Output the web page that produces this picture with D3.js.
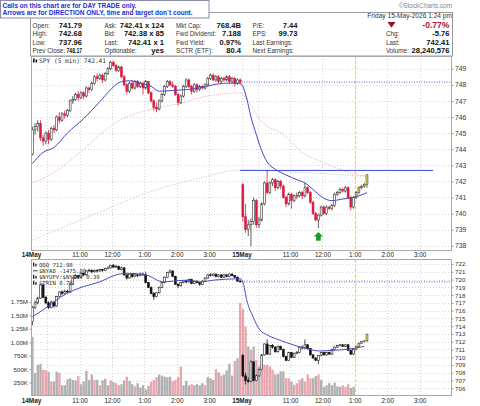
<!DOCTYPE html>
<html>
<head>
<meta charset="utf-8">
<script src="https://cdn.jsdelivr.net/npm/d3@7"></script>
<style>
body { margin: 0; background: #fff; }
svg { display: block; font-family: "Liberation Sans", Arial, sans-serif; }
</style>
</head>
<body>
<svg id="vis" width="480" height="406"></svg>
<script>
// SPY 5 min bars [open, high, low, close], 14May then 15May
var spyBars = [
  [743.7,745.4,743.6,745.2],[745.2,745.6,744.9,745.4],[745.4,745.8,745.1,745.6],[745.6,745.8,744.5,744.7],
  [744.7,744.9,744.2,744.5],[744.5,745.1,744.3,745.0],[745.0,745.2,744.3,744.6],[744.6,745.4,744.5,745.3],
  [745.3,745.5,745.0,745.2],[745.2,746.1,745.1,746.0],[746.0,746.3,745.6,745.8],[745.8,746.3,745.7,746.2],
  [746.2,746.4,745.9,746.1],[746.1,746.5,746.0,746.4],[746.4,747.1,746.3,747.0],[747.0,747.3,746.8,747.1],
  [747.1,747.5,747.0,747.4],[747.4,747.6,747.0,747.2],[747.2,747.6,747.1,747.5],[747.5,747.6,747.1,747.3],
  [747.3,747.9,747.2,747.8],[747.8,747.9,747.5,747.7],[747.7,748.2,747.6,748.1],[748.1,748.6,748.0,748.5],
  [748.5,748.7,748.2,748.4],[748.4,748.7,748.3,748.6],[748.6,748.7,748.1,748.3],[748.3,748.8,748.2,748.7],
  [748.7,749.1,748.6,749.0],[749.0,749.5,748.9,749.4],[749.4,749.5,749.1,749.2],[749.2,749.3,748.8,748.9],
  [748.9,749.2,748.8,749.1],[749.1,749.2,748.4,748.5],[748.5,748.6,747.9,748.0],[748.0,748.1,747.4,747.6],
  [747.6,748.2,747.5,748.1],[748.1,748.3,747.7,747.8],[747.8,748.3,747.7,748.2],[748.2,748.3,747.8,747.9],
  [747.9,748.2,747.8,748.1],[748.1,748.2,747.4,747.8],[747.8,748.3,747.7,748.2],[748.2,748.2,747.4,747.5],
  [747.5,747.6,746.9,747.0],[747.0,747.1,746.4,746.6],[746.6,746.9,746.3,746.5],[746.5,747.1,746.4,747.0],
  [747.0,747.5,746.9,747.4],[747.4,748.0,747.3,747.9],[747.9,748.3,747.8,748.2],[748.2,748.3,747.9,748.0],
  [748.0,748.2,747.8,747.9],[747.9,748.0,747.3,747.4],[747.4,747.5,746.7,746.9],[746.9,747.4,746.8,747.3],
  [747.3,748.0,747.2,747.9],[747.9,748.4,747.8,748.3],[748.3,748.4,747.8,747.9],[747.9,748.0,747.4,747.6],
  [747.6,748.1,747.5,748.0],[748.0,748.1,747.5,747.7],[747.7,748.0,747.6,747.9],[747.9,748.0,747.7,747.8],
  [747.8,748.1,747.7,748.0],[748.0,748.5,747.9,748.4],[748.4,748.7,748.3,748.6],[748.6,748.7,748.2,748.3],
  [748.3,748.6,748.2,748.5],[748.5,748.6,748.1,748.2],[748.2,748.5,748.1,748.4],[748.4,748.5,748.2,748.3],
  [748.3,748.6,748.2,748.5],[748.5,748.6,748.1,748.2],[748.2,748.5,748.1,748.4],[748.4,748.5,747.9,748.1],
  [748.1,748.4,748.0,748.3],[748.3,748.4,748.0,748.17],
  [741.79,741.9,739.5,739.8],[739.8,740.6,738.8,739.0],[739.0,739.6,738.6,739.3],[739.3,739.7,737.96,739.5],
  [739.5,741.0,739.3,740.8],[740.8,740.9,739.1,739.3],[739.3,739.8,739.1,739.6],[739.6,740.7,739.5,740.6],
  [740.6,742.0,740.5,741.9],[741.9,742.68,741.2,741.3],[741.3,742.0,741.2,741.9],[741.9,742.2,741.7,742.1],
  [742.1,742.2,741.4,741.6],[741.6,742.1,741.5,742.0],[742.0,742.1,741.5,741.7],[741.7,741.8,740.9,741.0],
  [741.0,741.1,740.4,740.6],[740.6,741.3,740.5,741.2],[741.2,741.3,740.3,740.8],[740.8,741.2,740.7,741.1],
  [741.1,741.3,740.9,741.1],[741.1,741.4,741.0,741.3],[741.3,741.4,740.9,741.1],[741.1,741.9,741.0,741.6],
  [741.6,741.7,741.2,741.3],[741.3,741.4,740.6,740.7],[740.7,740.8,739.9,740.0],[740.0,740.1,739.5,739.6],
  [739.6,740.0,739.1,739.9],[739.9,740.5,739.8,740.4],[740.4,740.5,739.9,740.0],[740.0,740.5,739.9,740.4],
  [740.4,740.5,740.2,740.3],[740.3,740.6,740.2,740.5],[740.5,741.3,740.4,741.2],[741.2,741.4,741.1,741.3],
  [741.3,741.6,741.2,741.5],[741.5,741.6,741.3,741.4],[741.4,741.7,741.3,741.6],[741.6,741.7,740.9,741.0],
  [741.0,741.1,740.2,740.4],[740.4,741.1,740.3,741.0],[741.0,741.4,740.9,741.3],[741.3,741.7,741.2,741.6],
  [741.6,741.8,741.5,741.7],[741.7,741.9,741.6,741.8],[741.8,742.41,741.6,742.41]
];

// QQQ 5 min bars [open, high, low, close]
var qqqBars = [
  [714.6,716.6,714.1,716.4],[716.4,717.3,716.2,717.0],[717.0,717.8,716.8,717.6],[717.6,719.4,717.5,719.3],
  [719.3,719.5,717.6,717.7],[717.7,717.9,716.8,717.0],[717.0,717.2,716.2,716.4],[716.4,717.3,716.3,717.1],
  [717.1,717.2,716.4,716.6],[716.6,717.9,716.5,717.8],[717.8,718.5,717.7,718.4],[718.4,718.6,718.0,718.2],
  [718.2,718.7,718.1,718.5],[718.5,718.7,718.2,718.4],[718.4,719.5,718.3,719.4],[719.4,720.3,719.3,720.2],
  [720.2,720.7,720.1,720.5],[720.5,720.6,720.1,720.3],[720.3,720.9,720.2,720.8],[720.8,720.9,720.4,720.6],
  [720.6,721.2,720.5,721.1],[721.1,721.4,721.0,721.2],[721.2,721.3,720.8,721.0],[721.0,721.3,720.9,721.2],
  [721.2,721.3,720.9,721.1],[721.1,721.4,721.0,721.3],[721.3,721.4,721.0,721.2],[721.2,721.5,721.1,721.4],
  [721.4,721.7,721.3,721.5],[721.5,721.9,721.4,721.8],[721.8,722.0,721.5,721.6],[721.6,721.9,721.5,721.7],
  [721.7,721.8,721.2,721.3],[721.3,721.7,721.2,721.5],[721.5,721.6,720.5,720.6],[720.6,720.7,720.0,720.2],
  [720.2,720.8,720.1,720.7],[720.7,720.8,720.2,720.4],[720.4,720.8,720.3,720.6],[720.6,720.7,720.3,720.5],
  [720.5,720.9,720.4,720.7],[720.7,720.9,720.5,720.6],[720.6,721.0,719.5,719.6],[719.6,719.7,718.9,719.0],
  [719.0,719.1,718.1,718.2],[718.2,718.4,717.4,717.8],[717.8,718.4,717.7,718.3],[718.3,719.1,718.2,719.0],
  [719.0,719.7,718.9,719.6],[719.6,720.4,719.5,720.3],[720.3,721.0,720.2,720.9],[720.9,721.3,720.8,721.1],
  [721.1,721.2,720.3,720.4],[720.4,720.5,719.3,719.4],[719.4,719.5,718.9,719.2],[719.2,719.7,719.1,719.6],
  [719.6,719.9,719.5,719.8],[719.8,720.0,719.5,719.7],[719.7,720.1,719.6,720.0],[720.0,720.1,719.4,719.5],
  [719.5,719.9,719.4,719.8],[719.8,719.9,719.5,719.6],[719.6,719.7,719.2,719.4],[719.4,719.9,719.3,719.8],
  [719.8,720.3,719.7,720.2],[720.2,720.7,720.1,720.6],[720.6,720.8,720.4,720.5],[720.5,720.8,720.4,720.7],
  [720.7,720.8,720.3,720.4],[720.4,720.7,720.3,720.6],[720.6,720.7,720.2,720.3],[720.3,720.7,720.2,720.6],
  [720.6,720.7,720.3,720.4],[720.4,720.8,720.3,720.7],[720.7,720.8,720.4,720.5],[720.5,720.6,720.2,720.3],
  [720.3,720.4,719.7,719.8],[719.8,720.0,719.6,719.7],
  [710.2,710.4,707.4,707.6],[707.6,708.0,706.5,707.0],[707.0,707.4,706.7,706.9],[706.9,709.6,706.8,709.4],
  [709.4,709.5,706.9,707.0],[707.0,707.8,706.9,707.6],[707.6,708.5,707.5,708.4],[708.4,710.4,708.3,710.3],
  [710.3,711.8,710.2,711.7],[711.7,712.3,710.3,710.4],[710.4,711.6,710.3,711.5],[711.5,711.7,711.1,711.3],
  [711.3,711.4,710.6,710.7],[710.7,711.5,710.6,711.4],[711.4,711.5,710.9,711.0],[711.0,711.1,710.0,710.1],
  [710.1,710.2,709.5,709.6],[709.6,710.7,709.5,710.6],[710.6,710.7,709.9,710.0],[710.0,710.6,709.9,710.5],
  [710.5,710.8,710.4,710.6],[710.6,711.4,710.5,711.3],[711.3,711.5,711.0,711.2],[711.2,712.3,711.1,711.6],
  [711.6,711.7,711.0,711.1],[711.1,711.2,710.2,710.3],[710.3,710.4,709.8,709.9],[709.9,710.0,709.5,709.6],
  [709.6,710.3,709.1,710.2],[710.2,710.7,710.1,710.6],[710.6,710.7,710.2,710.3],[710.3,710.7,710.2,710.6],
  [710.6,710.7,710.3,710.4],[710.4,711.1,710.3,711.0],[711.0,711.4,710.9,711.3],[711.3,711.6,711.2,711.5],
  [711.5,711.7,711.4,711.6],[711.6,711.7,711.3,711.4],[711.4,711.7,711.3,711.6],[711.6,711.7,710.8,710.9],
  [710.9,711.0,710.3,710.4],[710.4,711.1,710.3,711.0],[711.0,711.5,710.9,711.4],[711.4,711.9,711.3,711.8],
  [711.8,712.1,711.7,712.0],[712.0,712.2,711.9,712.1],[712.1,712.98,712.0,712.98]
];

// volume in millions, and 1 where the bar is drawn pink
var volume = [
  1.1,0.43,0.58,0.6,0.49,0.48,0.45,0.27,0.27,0.45,0.43,0.2,0.2,0.31,0.33,0.3,0.29,0.37,0.22,0.27,
  0.47,0.3,0.4,0.3,0.3,0.2,0.29,0.32,0.2,0.29,0.26,0.24,0.2,0.22,0.29,0.36,0.28,0.22,0.18,0.24,
  0.16,0.2,0.12,0.19,0.26,0.3,0.35,0.4,0.38,0.36,0.35,0.36,0.28,0.3,0.35,0.55,0.2,0.28,0.2,0.22,
  0.2,0.22,0.2,0.24,0.2,0.35,0.33,0.3,0.5,0.44,0.38,0.4,0.48,0.6,0.38,0.65,0.7,1.73,
  1.62,1.29,0.92,0.86,0.92,0.67,0.55,0.61,0.58,0.58,0.55,0.49,0.4,0.41,0.46,0.46,0.33,0.33,0.27,0.21,
  0.24,0.3,0.33,0.27,0.4,0.33,0.33,0.37,0.4,0.3,0.17,0.2,0.24,0.2,0.25,0.18,0.17,0.2,0.17,0.22,
  0.15,0.17
];
var volDown = [
  0,0,0,0,1,1,0,1,0,0,1,0,0,0,0,0,0,1,0,0,
  0,0,0,1,0,1,0,0,0,1,0,1,1,0,0,1,0,0,1,0,
  0,0,0,0,1,1,1,0,0,0,0,0,1,1,1,1,0,0,0,1,
  0,0,0,0,1,0,0,0,1,0,1,0,0,0,0,1,0,1,
  1,1,0,1,0,1,0,1,1,1,1,1,0,0,0,0,1,1,0,1,
  1,1,0,1,1,1,0,0,1,0,0,0,0,0,0,0,0,1,1,1,
  0,0
];

// moving averages [bar index, value]
var spyMaShort = [[0,743.1],[4,743.8],[8,744.1],[13,745.0],[19,745.9],[25,746.95],[29,747.7],[33,748.2],
  [36,748.25],[40,748.1],[44,747.9],[47,747.6],[52,747.65],[57,747.7],[62,747.8],[67,748.0],[72,748.1],
  [77,748.1],[78,747.9],[79.5,747.1],[81,746.0],[83,744.9],[85,743.9],[87,743.2],[90,742.75],[94,742.4],
  [98,742.1],[101,741.9],[104,741.5],[107.5,741.0],[111,740.8],[115,740.9],[119,741.0],[121,741.1],[124,741.3]];
var spyMaMid = [[0,741.9],[6.5,742.4],[17.6,743.8],[25,744.9],[32.5,745.8],[40,746.3],[47,746.6],[55,746.85],
  [62,747.2],[69.5,747.4],[77,747.5],[78,747.4],[85,745.7],[93,744.9],[100,743.8],[107.5,743.2],[115,742.7],
  [120.5,742.4],[124,742.35]];
var spyMaLong = [[0,738.35],[25,740.1],[43.6,741.35],[62,742.2],[77,742.7],[100,742.55],[124,742.3]];
var qqqMa = [[0,715.2],[4,716.1],[12.7,718.2],[19,719.1],[25,719.7],[31,720.6],[35,720.8],[42,720.6],
  [48.5,719.7],[56,719.9],[62,719.7],[68,719.95],[77,720.1],[78,719.7],[79.4,717.4],[81.8,715.2],
  [84.3,713.5],[86.8,712.9],[91.7,712.2],[96.6,711.6],[101.6,711.1],[106.5,710.8],[111.4,710.9],
  [116.4,711.0],[123,711.4]];

var spyPrevClose = 748.17;
var spyDayHigh = 742.68;
var qqqPrevClose = 719.7;
var arrowIndex = 106;
var liveStart = 120;

// x axis
var tickIdx = [0, 18, 30, 42, 54, 66, 78, 96, 108, 120, 132, 144];
var tickLabels = ["14May", "11:00", "12:00", "1:00", "2:00", "3:00", "15May", "11:00", "12:00", "1:00", "2:00", "3:00"];
var gridIdx = [6, 18, 30, 42, 54, 66, 78, 84, 96, 108, 120, 132, 144];
var volTicks = [0.25, 0.5, 0.75, 1.0, 1.25, 1.5, 1.75];
var volLabels = ["250K", "500K", "750K", "1.00M", "1.25M", "1.50M", "1.75M"];

// header table
var hdrLabels1 = ["Open:", "High:", "Low:", "Prev Close:"];
var hdrValues1 = ["741.79", "742.68", "737.96", "748.17"];
var hdrLabels2 = ["Ask:", "Bid:", "Last:", "Optionable:"];
var hdrValues2 = ["742.41 x 124", "742.38 x 85", "742.41 x 1", "yes"];
var hdrLabels3 = ["Mkt Cap:", "Fwd Dividend:", "Fwd Yield:", "SCTR (ETF):"];
var hdrValues3 = ["768.4B", "7.188", "0.97%", "80.4"];
var hdrLabels4 = ["P/E:", "EPS:", "Last Earnings:", "Next Earnings:"];
var hdrValues4 = ["7.44", "99.73", "", ""];
var hdrLabels5 = ["Chg:", "Last:", "Volume:"];
var hdrValues5 = ["-5.76", "742.41", "28,240,576"];
var pctChange = "-0.77%";
var lowerLegend = ["QQQ 712.98", "$NYAD -1475.00", "$NYUPV:$NYDNV 0.39", "$TRIN 0.76"];

// constant
var left = 31, right = 452;
var topY0 = 56, topY1 = 251, lowY0 = 259, lowY1 = 396;
var rowY = [27.7, 36.2, 44.8, 53.3];

var x = d3.scaleLinear().domain([0, 156]).range([left, right]);
var yTop = d3.scaleLinear().domain([738, 749]).range([245.7, 68.7]);
var yLow = d3.scaleLinear().domain([706, 722]).range([388.3, 264]);
var yVol = d3.scaleLinear().domain([0, 1.75]).range([lowY1, 302]);

var vis = d3.select("#vis");

vis.append("rect").attr("width", 480).attr("height", 406).attr("fill", "#fff");

// clip
var defs = vis.append("defs");
defs.append("clipPath").attr("id", "clipTop").append("rect")
    .attr("x", left).attr("y", topY0).attr("width", right - left).attr("height", topY1 - topY0);
defs.append("clipPath").attr("id", "clipLow").append("rect")
    .attr("x", left).attr("y", lowY0).attr("width", right - left).attr("height", lowY1 - lowY0);

// header box
vis.append("rect")
    .attr("x", 30.5).attr("y", 12.5).attr("width", right - 30).attr("height", topY0 - 12.5)
    .attr("fill", "#fff").attr("stroke", "#999").attr("stroke-width", 1);

function hdrColumn(labels, values, lx, vx, row0) {
    labels.forEach(function (d, i) {
        var yy = rowY[i + row0];
        var lab = vis.append("text").attr("x", lx).attr("y", yy).text(d)
            .style("font-size", "6.3px").attr("fill", "#333");
        var val = vis.append("text").attr("x", vx).attr("y", yy).text(values[i])
            .attr("text-anchor", "end")
            .style("font-size", "7.6px").style("font-weight", "bold").attr("fill", "#111");
        // keep the value clear of its label
        var avail = vx - (lx + lab.node().getComputedTextLength() + 1.5);
        var w = val.node().getComputedTextLength();
        if (w > avail && values[i] !== "") {
            val.attr("textLength", avail).attr("lengthAdjust", "spacingAndGlyphs");
        }
    });
}
hdrColumn(hdrLabels1, hdrValues1, 32.5, 82, 0);
hdrColumn(hdrLabels2, hdrValues2, 104.5, 164, 0);
hdrColumn(hdrLabels3, hdrValues3, 176, 241, 0);
hdrColumn(hdrLabels4, hdrValues4, 252.5, 297.5, 0);
hdrColumn(hdrLabels5, hdrValues5, 386, 449.5, 1);

vis.append("text").attr("x", 449.5).attr("y", 28).text(pctChange)
    .attr("text-anchor", "end").style("font-size", "8.6px").style("font-weight", "bold").attr("fill", "#b0103a");
vis.append("path").attr("d", "M387.5,21.9 L395.5,21.9 L391.5,27.8 Z").attr("fill", "#9c0f2e");
vis.append("text").attr("x", 452).attr("y", 18.2).text("Friday  15-May-2026  1:24 pm")
    .attr("text-anchor", "end").style("font-size", "6.6px").attr("fill", "#333");
vis.append("text").attr("x", 452).attr("y", 8.3).text("\u00a9StockCharts.com")
    .attr("text-anchor", "end").style("font-size", "6.4px").attr("fill", "#888");

// notice box
vis.append("rect").attr("x", 0.5).attr("y", 0.5).attr("width", 208.5).attr("height", 17.5)
    .attr("fill", "#fff").attr("stroke", "#8a8aa8");
vis.append("text").attr("x", 2.5).attr("y", 7.6).text("Calls on this chart are for DAY TRADE only.")
    .style("font-size", "6.5px").style("font-weight", "bold").attr("fill", "#1a2fd6");
vis.append("text").attr("x", 2.5).attr("y", 15.2).text("Arrows are for DIRECTION ONLY, time and target don`t count.")
    .style("font-size", "6.5px").style("font-weight", "bold").attr("fill", "#1a2fd6");

// grids
function grid(y0, y1, yScale, vals) {
    vis.append("g").selectAll("line").data(vals).enter().append("line")
        .attr("x1", left).attr("x2", right)
        .attr("y1", function (d) { return Math.round(yScale(d)) + 0.5; })
        .attr("y2", function (d) { return Math.round(yScale(d)) + 0.5; })
        .attr("stroke", "#d4d4d4").attr("stroke-dasharray", "1,2");
    vis.append("g").selectAll("line").data(gridIdx).enter().append("line")
        .attr("x1", function (d) { return Math.round(x(d)) + 0.5; })
        .attr("x2", function (d) { return Math.round(x(d)) + 0.5; })
        .attr("y1", y0).attr("y2", y1)
        .attr("stroke", "#d4d4d4").attr("stroke-dasharray", "1,2");
}
grid(topY0, topY1, yTop, d3.range(738, 750));
grid(lowY0, lowY1, yLow, d3.range(706, 723));

// live bar marker
[[topY0, topY1], [lowY0, lowY1]].forEach(function (r) {
    vis.append("line")
        .attr("x1", Math.round(x(liveStart)) + 0.5).attr("x2", Math.round(x(liveStart)) + 0.5)
        .attr("y1", r[0]).attr("y2", r[1])
        .attr("stroke", "#f6cf72").attr("stroke-width", 1.3).attr("stroke-dasharray", "3,2");
});

// volume bars
vis.append("g").attr("clip-path", "url(#clipLow)")
    .selectAll("rect").data(volume).enter().append("rect")
    .attr("x", function (d, i) { return x(i) + 0.2; })
    .attr("width", x(1) - x(0) - 0.3)
    .attr("y", function (d) { return yVol(d); })
    .attr("height", function (d) { return lowY1 - yVol(d); })
    .attr("fill", function (d, i) { return volDown[i] ? "#e9a6ae" : "#b1b1b1"; });

// moving average lines
function maLine(g, data, yScale, color, width, dash) {
    g.append("path").datum(data)
        .attr("fill", "none").attr("stroke", color).attr("stroke-width", width)
        .attr("stroke-dasharray", dash)
        .attr("d", d3.line()
            .x(function (d) { return x(d[0] + 0.5); })
            .y(function (d) { return yScale(d[1]); })
            .curve(d3.curveMonotoneX));
}

var gTop = vis.append("g").attr("clip-path", "url(#clipTop)");
var gLow = vis.append("g").attr("clip-path", "url(#clipLow)");

maLine(gTop, spyMaLong, yTop, "#b9ccb6", 1, "1,1.5");
maLine(gTop, spyMaMid, yTop, "#f0b4c0", 1, "1,1");

// reference levels
gTop.append("line")
    .attr("x1", x(78)).attr("x2", right)
    .attr("y1", yTop(spyPrevClose)).attr("y2", yTop(spyPrevClose))
    .attr("stroke", "#5060ee").attr("stroke-width", 1).attr("stroke-dasharray", "1,1.5");
gTop.append("line")
    .attr("x1", x(77.5)).attr("x2", x(149))
    .attr("y1", yTop(spyDayHigh)).attr("y2", yTop(spyDayHigh))
    .attr("stroke", "#3a48d0").attr("stroke-width", 1);
gLow.append("line")
    .attr("x1", x(78)).attr("x2", right)
    .attr("y1", yLow(qqqPrevClose)).attr("y2", yLow(qqqPrevClose))
    .attr("stroke", "#5060ee").attr("stroke-width", 1).attr("stroke-dasharray", "1,1.5");

// candles
function candles(g, bars, yScale, downFill, upStroke) {
    var bw = 1.9;
    var c = g.append("g").selectAll("g").data(bars).enter().append("g");
    function col(d, i) {
        if (i >= liveStart) return "#444";
        return d[3] < d[0] ? downFill : upStroke;
    }
    c.append("line")
        .attr("x1", function (d, i) { return x(i + 0.5); })
        .attr("x2", function (d, i) { return x(i + 0.5); })
        .attr("y1", function (d) { return yScale(d[1]); })
        .attr("y2", function (d) { return yScale(d[2]); })
        .attr("stroke", col).attr("stroke-width", 0.8);
    c.append("rect")
        .attr("x", function (d, i) { return x(i + 0.5) - bw / 2; })
        .attr("width", bw)
        .attr("y", function (d) { return yScale(Math.max(d[0], d[3])); })
        .attr("height", function (d) { return Math.max(0.6, Math.abs(yScale(d[0]) - yScale(d[3]))); })
        .attr("fill", function (d, i) {
            if (i >= liveStart) return "#f1e33a";
            return d[3] < d[0] ? downFill : "#fff";
        })
        .attr("stroke", col).attr("stroke-width", 0.6);
}

candles(gTop, spyBars, yTop, "#d81c40", "#333");
maLine(gTop, spyMaShort, yTop, "#4646c6", 1, null);

candles(gLow, qqqBars, yLow, "#111", "#222");
maLine(gLow, qqqMa, yLow, "#4a4ac8", 1, null);

// arrow
var ax = x(arrowIndex + 0.5);
var ay = yTop(spyBars[arrowIndex][2]) + 4;
vis.append("path")
    .attr("d", "M" + ax + "," + ay + " l4.5,4.5 l-2.2,0 l0,4.2 l-4.6,0 l0,-4.2 l-2.2,0 Z")
    .attr("fill", "#159a2a");

// borders
vis.append("rect").attr("x", left + 0.5).attr("y", topY0 + 0.5)
    .attr("width", right - left - 1).attr("height", topY1 - topY0 - 1)
    .attr("fill", "none").attr("stroke", "#aaa");
vis.append("rect").attr("x", left + 0.5).attr("y", lowY0 + 0.5)
    .attr("width", right - left - 1).attr("height", lowY1 - lowY0 - 1)
    .attr("fill", "none").attr("stroke", "#aaa");

// y axes
var axTop = vis.append("g").attr("transform", "translate(" + (right - 0.5) + ",0)")
    .call(d3.axisRight(yTop).tickValues(d3.range(738, 750)).tickSize(2).tickPadding(1.5).tickFormat(d3.format("d")));
var axLow = vis.append("g").attr("transform", "translate(" + (right - 0.5) + ",0)")
    .call(d3.axisRight(yLow).tickValues(d3.range(706, 723)).tickSize(2).tickPadding(1.5).tickFormat(d3.format("d")));
var axVol = vis.append("g").attr("transform", "translate(" + (left + 0.5) + ",0)")
    .call(d3.axisLeft(yVol).tickValues(volTicks).tickSize(2).tickPadding(1.5)
        .tickFormat(function (d, i) { return volLabels[i]; }));
[axTop, axLow, axVol].forEach(function (a) {
    a.select(".domain").remove();
    a.selectAll("line").attr("stroke", "#999");
    a.selectAll("text").attr("fill", "#333").style("font-family", "Liberation Sans, Arial, sans-serif");
});
axTop.selectAll("text").style("font-size", "6.8px");
axLow.selectAll("text").style("font-size", "6.2px");
axVol.selectAll("text").style("font-size", "6.2px");

// x axes
[topY1 + 5.8, lowY1 + 7].forEach(function (yy) {
    vis.append("g").selectAll("text").data(tickIdx).enter().append("text")
        .attr("x", function (d) { return x(d) + 0.5; })
        .attr("y", yy)
        .attr("text-anchor", "middle")
        .style("font-size", "6.4px")
        .style("font-weight", function (d, i) { return tickLabels[i].indexOf("May") > 0 ? "bold" : "normal"; })
        .attr("fill", "#222")
        .text(function (d, i) { return tickLabels[i]; });
});

// legends
vis.append("rect").attr("x", 33).attr("y", 58.5).attr("width", 1.6).attr("height", 4).attr("fill", "#111");
vis.append("rect").attr("x", 35.6).attr("y", 59.5).attr("width", 1.6).attr("height", 3).attr("fill", "#111");
vis.append("text").attr("x", 39).attr("y", 63.3).text("SPY (5 min) " + spyBars[spyBars.length - 1][3])
    .style("font-family", "DejaVu Sans Mono, monospace").style("font-size", "6.2px").attr("fill", "#333");

lowerLegend.forEach(function (t, i) {
    var yy = 266.5 + i * 6.1;
    if (i === 1) {
        vis.append("line").attr("x1", 33).attr("x2", 37.5).attr("y1", yy - 1.8).attr("y2", yy - 1.8)
            .attr("stroke", "#333").attr("stroke-width", 1);
    } else {
        vis.append("rect").attr("x", 33).attr("y", yy - 4).attr("width", 1.3).attr("height", 4).attr("fill", "#222");
        vis.append("rect").attr("x", 35.3).attr("y", yy - 2.8).attr("width", 1.3).attr("height", 2.8).attr("fill", "#222");
    }
    vis.append("text").attr("x", 39).attr("y", yy).text(t)
        .style("font-family", "DejaVu Sans Mono, monospace").style("font-size", "5.6px").attr("fill", "#333");
});
</script>
</body>
</html>
